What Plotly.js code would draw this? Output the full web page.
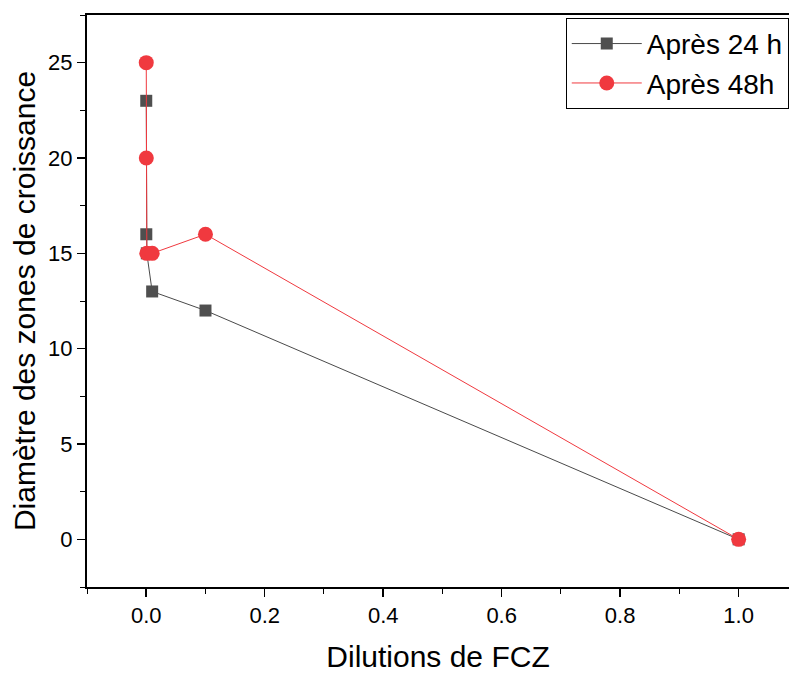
<!DOCTYPE html>
<html>
<head>
<meta charset="utf-8">
<script src="https://cdn.plot.ly/plotly-3.0.1.min.js"></script>
<style>html,body{margin:0;padding:0;background:#fff;}#chart{width:789px;height:673px;}</style>
</head>
<body>
<div id="chart"></div>
<script>
const dilutions = [0.00001, 0.0001, 0.001, 0.01, 0.1, 1];
const apres24h = [23, 16, 15, 13, 12, 0];
const apres48h = [25, 20, 15, 15, 16, 0];
const seriesNames = ['Après 24 h', 'Après 48h'];

const traces = [
  {x: dilutions, y: apres24h, name: seriesNames[0], type: 'scatter', mode: 'lines+markers',
   line: {color: '#4a4a4a', width: 1}, marker: {symbol: 'square', size: 12, color: '#4f4f4f'}},
  {x: dilutions, y: apres48h, name: seriesNames[1], type: 'scatter', mode: 'lines+markers',
   line: {color: '#f0393f', width: 1}, marker: {symbol: 'circle', size: 15, color: '#f0393f'}}
];

const layout = {
  width: 789, height: 673,
  margin: {l: 87, r: 0, t: 15, b: 86},
  paper_bgcolor: '#fff', plot_bgcolor: '#fff',
  font: {family: 'Liberation Sans, Arial, sans-serif', color: '#000'},
  showlegend: true,
  legend: {x: 0.682, y: 0.995, xanchor: 'left', yanchor: 'top', bordercolor: '#000', borderwidth: 1,
           bgcolor: '#fff', font: {size: 28, color: '#000'}, tracegroupgap: 0, itemwidth: 70,
           entrywidth: 240, entrywidthmode: 'pixels'},
  xaxis: {range: [-0.1, 1.085], tickvals: [0, 0.2, 0.4, 0.6, 0.8, 1.0], ticktext: ['0.0','0.2','0.4','0.6','0.8','1.0'],
          ticks: 'outside', ticklen: 8, tickwidth: 1.5, tickcolor: '#000',
          minor: {dtick: 0.1, tick0: 0, ticks: 'outside', ticklen: 5, tickwidth: 1, tickcolor: '#000'},
          showline: true, linecolor: '#000', linewidth: 2, mirror: true, showgrid: false, zeroline: false,
          tickfont: {size: 22}, title: {text: 'Dilutions de FCZ', font: {size: 30}, standoff: 22}},
  yaxis: {range: [-2.5, 27.5], tickvals: [0, 5, 10, 15, 20, 25],
          ticks: 'outside', ticklen: 8, tickwidth: 1.5, tickcolor: '#000',
          minor: {dtick: 2.5, tick0: 0, ticks: 'outside', ticklen: 5, tickwidth: 1, tickcolor: '#000'},
          showline: true, linecolor: '#000', linewidth: 2, mirror: false, showgrid: false, zeroline: false,
          tickfont: {size: 22}, title: {text: 'Diamètre des zones de croissance', font: {size: 30}, standoff: 4}}
};

Plotly.newPlot('chart', traces, layout, {displayModeBar: false, staticPlot: true});
</script>
</body>
</html>
